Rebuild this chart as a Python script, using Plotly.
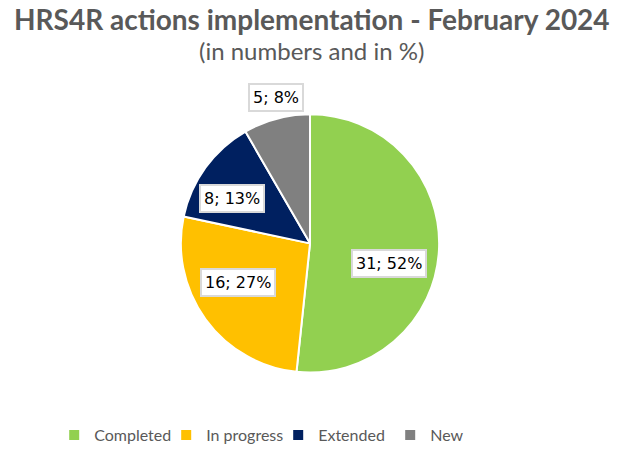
import math
import plotly.graph_objects as go

categories = ["Completed", "In progress", "Extended", "New"]
values = [31, 16, 8, 5]
colors = ["#92D050", "#FFC000", "#002060", "#808080"]
label_radius = [0.63, 0.63, 0.69, 1.16]   # label distance as fraction of pie radius
label_shift = [11, 7, -6, 2]              # label angular shift in degrees

W, H = 623, 452
cx, cy, R = 310, 245, 130

fig = go.Figure(go.Pie(
    labels=categories, values=values, sort=False, direction="clockwise", rotation=0,
    marker=dict(colors=colors, line=dict(color="white", width=2)),
    textinfo="none", hoverinfo="label+value+percent",
    domain=dict(x=[(cx - R) / W, (cx + R) / W], y=[1 - (cy + R) / H, 1 - (cy - R) / H]),
))

total = sum(values)
cum = 0
annotations = []
for cat, v, f, s in zip(categories, values, label_radius, label_shift):
    mid = (cum + v / 2) / total * 2 * math.pi + math.radians(s)
    cum += v
    px = cx + R * f * math.sin(mid)
    py = cy - R * f * math.cos(mid)
    pct = round(v / total * 100)
    annotations.append(dict(
        x=px / W, y=1 - py / H, xref="paper", yref="paper", showarrow=False,
        xanchor="center", yanchor="middle",
        text=f"{v}; {pct}%", font=dict(family="DejaVu Sans", size=16, color="#000000"),
        bgcolor="white", bordercolor="#D9D9D9", borderwidth=2, borderpad=3,
    ))

annotations.append(dict(x=0.5, y=1 - 19 / H, xref="paper", yref="paper", showarrow=False,
                        xanchor="center", yanchor="middle",
                        text="<b>HRS4R actions implementation - February 2024</b>",
                        font=dict(family="Lato", size=28, color="#595959")))
annotations.append(dict(x=0.5, y=1 - 51 / H, xref="paper", yref="paper", showarrow=False,
                        xanchor="center", yanchor="middle",
                        text="(in numbers and in %)",
                        font=dict(family="Lato", size=24, color="#595959")))

fig.update_layout(
    width=W, height=H, margin=dict(l=0, r=0, t=0, b=0),
    paper_bgcolor="white", plot_bgcolor="white",
    annotations=annotations,
    legend=dict(orientation="h", x=0.087, xanchor="left", y=1 - 438 / H, yanchor="middle",
                font=dict(family="Lato", size=16, color="#595959"),
                entrywidth=67, itemwidth=30, traceorder="normal"),
)

fig.write_html("out.html")
